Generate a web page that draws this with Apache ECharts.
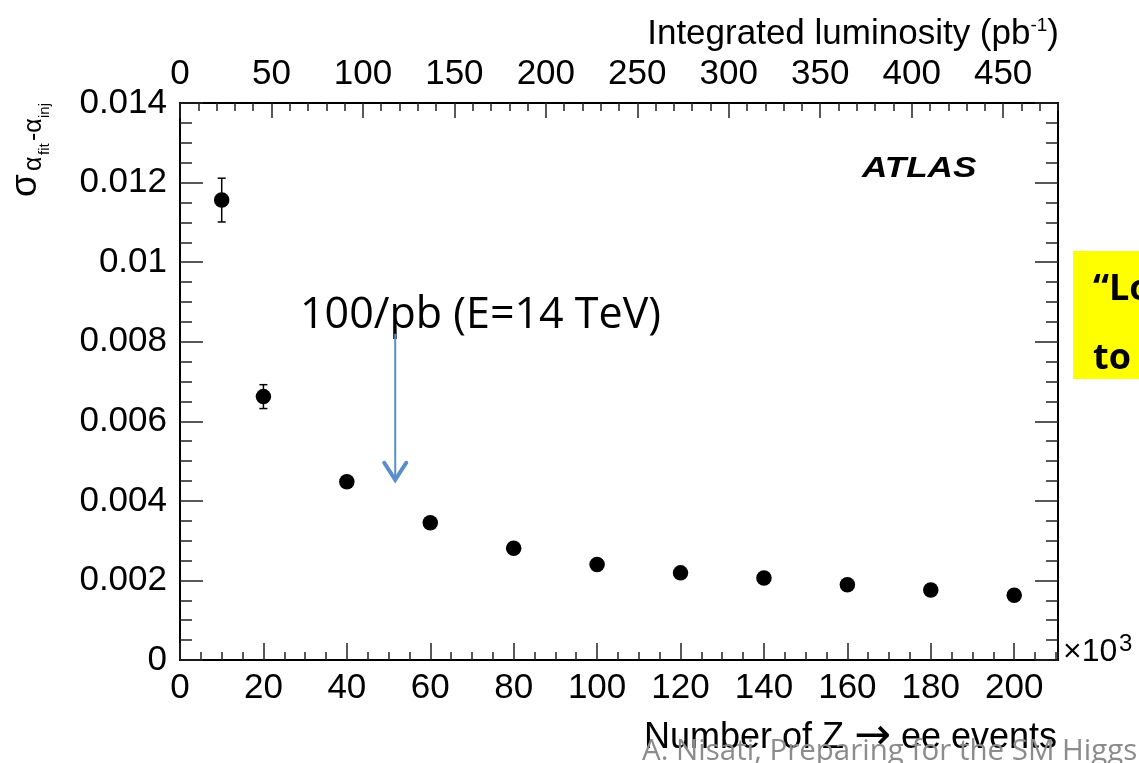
<!DOCTYPE html>
<html><head><meta charset="utf-8">
<script src="https://cdn.jsdelivr.net/npm/echarts@6/dist/echarts.min.js"></script>
<style>html,body{margin:0;padding:0;background:#fff}#c{width:1139px;height:763px}</style>
</head><body><div id="c"></div>
<script>
// ---- data ----
const events = [10, 20, 40, 60, 80, 100, 120, 140, 160, 180, 200];          // ×10^3 Z→ee events
const sigma = [0.01156, 0.00662, 0.00448, 0.00345, 0.00281, 0.00240, 0.00219, 0.00206, 0.00189, 0.00176, 0.00163];
const sigmaErr = [0.00055, 0.00030, 0.00012, 0.00010, 0.00008, 0.00007, 0.00006, 0.00006, 0.00005, 0.00005, 0.00005];
const xTickStep = 20, xMinorStep = 5, xMax = 210.5;
const lumiTickStep = 50, lumiMinorStep = 10, lumiMax = 480;
const yTickStep = 0.002, yMinorStep = 0.0005, yMax = 0.014;
const arrowX = 51.6, arrowFrom = 0.0082, arrowTo = 0.00448;   // "100/pb" annotation arrow (data space)

const FONT = 'Liberation Sans, Arial, Helvetica, sans-serif';
const SLIDE = 'Open Sans, Noto Sans, sans-serif';
const chart = echarts.init(document.getElementById('c'), null, {renderer: 'canvas'});

function axis(extra) {
  return Object.assign({
    type: 'value', min: 0, splitLine: {show: false},
    axisLine: {show: true, onZero: false, lineStyle: {color: '#000', width: 2}},
    axisTick: {show: true, inside: true, lineStyle: {color: '#222', width: 1.5}},
    axisLabel: {show: false}
  }, extra);
}
const labelStyle = {show: true, fontSize: 35, fontFamily: FONT, color: '#000', showMaxLabel: false};
const tick = len => ({show: true, inside: true, length: len, lineStyle: {color: '#222', width: 1.5}});

const yFmt = v => v === 0 ? '0' : String(+v.toFixed(3));

chart.setOption({
  animation: false,
  backgroundColor: '#fff',
  grid: {left: 180, right: 81, top: 103, bottom: 103, containLabel: false, outerBoundsMode: 'none'},
  xAxis: [
    axis({position: 'bottom', max: xMax, interval: xTickStep, axisTick: tick(17),
          axisLabel: Object.assign({}, labelStyle, {margin: 11})}),
    axis({position: 'bottom', max: xMax, interval: xMinorStep, axisTick: tick(8)}),
    axis({position: 'top', max: lumiMax, interval: lumiTickStep, axisTick: tick(15),
          axisLabel: Object.assign({}, labelStyle, {margin: 11})}),
    axis({position: 'top', max: lumiMax, interval: lumiMinorStep, axisTick: tick(8)})
  ],
  yAxis: [
    axis({position: 'left', max: yMax, interval: yTickStep, axisTick: tick(23),
          axisLabel: Object.assign({}, labelStyle, {margin: 13, formatter: yFmt, showMaxLabel: true})}),
    axis({position: 'left', max: yMax, interval: yMinorStep, axisTick: tick(12)}),
    axis({position: 'right', max: yMax, interval: yTickStep, axisTick: tick(23)}),
    axis({position: 'right', max: yMax, interval: yMinorStep, axisTick: tick(12)})
  ],
  series: [
    {
      type: 'custom', xAxisIndex: 0, yAxisIndex: 0, z: 3,
      encode: {x: 0, y: 1},
      data: events.map((x, i) => [x, sigma[i], sigmaErr[i]]),
      renderItem: function (params, api) {
        const x = api.value(0), y = api.value(1), e = api.value(2);
        const t = api.coord([x, y + e]), b = api.coord([x, y - e]);
        const cw = 4, st = {stroke: '#000', lineWidth: 1.5};
        return {type: 'group', children: [
          {type: 'line', shape: {x1: t[0], y1: t[1], x2: b[0], y2: b[1]}, style: st},
          {type: 'line', shape: {x1: t[0] - cw, y1: t[1], x2: t[0] + cw, y2: t[1]}, style: st},
          {type: 'line', shape: {x1: b[0] - cw, y1: b[1], x2: b[0] + cw, y2: b[1]}, style: st}
        ]};
      }
    },
    {
      type: 'scatter', xAxisIndex: 0, yAxisIndex: 0, z: 4,
      symbol: 'circle', symbolSize: 15.5,
      itemStyle: {color: '#000', opacity: 1},
      data: events.map((x, i) => [x, sigma[i]])
    },
    {
      type: 'custom', xAxisIndex: 0, yAxisIndex: 0, z: 5,
      encode: {x: 0, y: 1},
      data: [[arrowX, arrowFrom, arrowTo]],
      renderItem: function (params, api) {
        const x = api.value(0);
        const p1 = api.coord([x, api.value(1)]), p2 = api.coord([x, api.value(2)]);
        const c = '#5a8dca';
        return {type: 'group', children: [
          {type: 'line', shape: {x1: p1[0], y1: p1[1], x2: p2[0], y2: p2[1] - 2}, style: {stroke: c, lineWidth: 2}},
          {type: 'polyline', shape: {points: [[p2[0] - 11, p2[1] - 19], [p2[0], p2[1] - 2], [p2[0] + 11, p2[1] - 19]]},
           style: {stroke: c, lineWidth: 4, fill: null, lineJoin: 'miter', lineCap: 'round'}}
        ]};
      }
    }
  ],
  graphic: [
    // y-axis title: sigma_{alpha_fit - alpha_inj}, rotated
    {type: 'group', x: 37, y: 197, rotation: Math.PI / 2, children: [
      {type: 'text', x: 0, y: -11, style: {text: 'σ', font: '37px ' + FONT, fill: '#000', verticalAlign: 'middle', align: 'left'}},
      {type: 'text', x: 26, y: -2.5, style: {text: 'α', font: '25px ' + FONT, fill: '#000', verticalAlign: 'middle', align: 'left'}},
      {type: 'text', x: 42, y: 7.5, style: {text: 'fit', font: '15px ' + FONT, fill: '#000', verticalAlign: 'middle', align: 'left'}},
      {type: 'text', x: 56, y: -2.5, style: {text: '-α', font: '25px ' + FONT, fill: '#000', verticalAlign: 'middle', align: 'left'}},
      {type: 'text', x: 79, y: 7.5, style: {text: 'inj', font: '15px ' + FONT, fill: '#000', verticalAlign: 'middle', align: 'left'}}
    ]},
    // top axis title
    {type: 'text', x: 1059, y: 34, style: {
      text: '{a|Integrated luminosity (pb}{b|-1}{a|)}', align: 'right', verticalAlign: 'middle',
      rich: {a: {fontSize: 35, fontFamily: FONT, fill: '#000'}, b: {fontSize: 19, fontFamily: FONT, fill: '#000', verticalAlign: 'top'}}
    }},
    // bottom axis title
    {type: 'text', x: 1057, y: 738, style: {
      text: '{a|Number of Z }{r|→}{a| ee events}', align: 'right', verticalAlign: 'middle',
      rich: {a: {fontSize: 36, fontFamily: FONT, fill: '#000'}, r: {fontSize: 44, fontFamily: 'DejaVu Sans', fill: '#000'}}
    }},
    // x10^3
    {type: 'text', x: 1063, y: 652, style: {text: '×10', font: '32px ' + FONT, fill: '#000', align: 'left', verticalAlign: 'middle'}},
    {type: 'text', x: 1119, y: 644, style: {text: '3', font: '24px ' + FONT, fill: '#000', align: 'left', verticalAlign: 'middle'}},
    // ATLAS
    {type: 'text', x: 862, y: 169, scaleX: 1.17, style: {text: 'ATLAS', font: 'italic bold 30px ' + FONT, fill: '#000', align: 'left', verticalAlign: 'middle'}},
    // annotation text
    {type: 'text', x: 300, y: 316, style: {text: '100/pb (E=14 TeV)', font: '43px ' + SLIDE, fill: '#000', align: 'left', verticalAlign: 'middle'}},
    // yellow box
    {type: 'rect', shape: {x: 1073, y: 251, width: 80, height: 128}, style: {fill: '#ffff00'}, z: 10},
    {type: 'text', x: 1093, y: 290, z: 11, style: {text: '“Lo', font: 'bold 36px ' + SLIDE, fill: '#000', align: 'left', verticalAlign: 'middle'}},
    {type: 'text', x: 1093, y: 359, z: 11, style: {text: 'to', font: 'bold 36px ' + SLIDE, fill: '#000', align: 'left', verticalAlign: 'middle'}},
    // footer
    {type: 'text', x: 642, y: 752, z: 20, style: {text: 'A. Nisati, Preparing for the SM Higgs', font: '29.5px ' + SLIDE, fill: '#8c8c8c', align: 'left', verticalAlign: 'middle'}}
  ]
});
</script>
</body></html>
